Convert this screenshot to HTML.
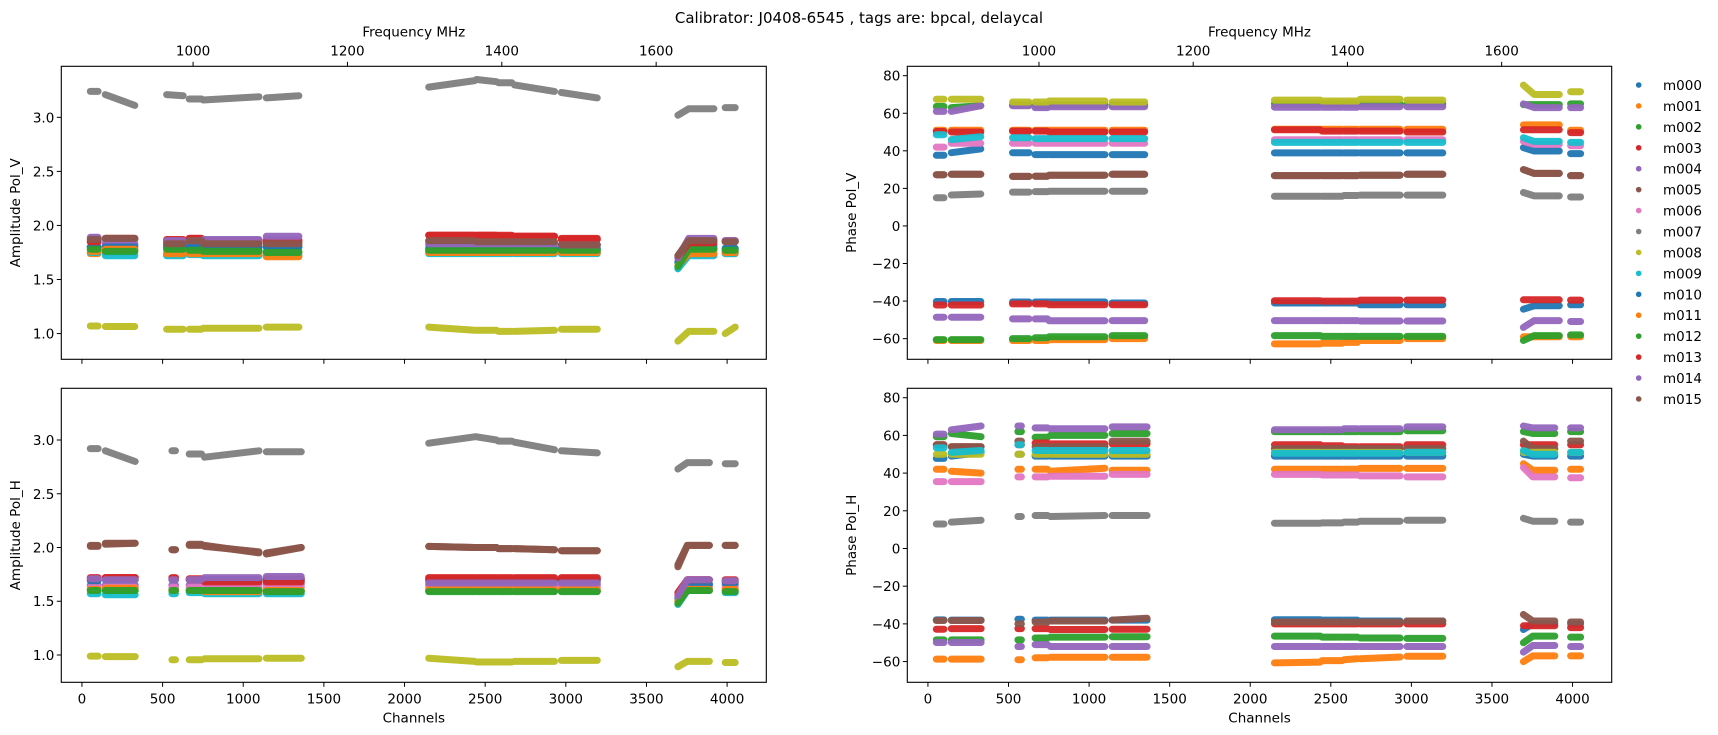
<!DOCTYPE html>
<html><head><meta charset="utf-8">
<style>
html,body{margin:0;padding:0;background:#fff;}
svg{display:block;font-family:"DejaVu Sans","Liberation Sans",sans-serif;}
</style></head>
<body>
<svg id="fig" width="1718" height="735" viewBox="0 0 1718 735" xmlns="http://www.w3.org/2000/svg">
<text x="859" y="23" text-anchor="middle" font-size="15" fill="#000">Calibrator: J0408-6545 , tags are: bpcal, delaycal</text>
</svg>
<script>
// ---- data ----
const antennas = ["m000","m001","m002","m003","m004","m005","m006","m007","m008","m009","m010","m011","m012","m013","m014","m015"];
const colors = ["#1f77b4","#ff7f0e","#2ca02c","#d62728","#9467bd","#8c564b","#e377c2","#7f7f7f","#bcbd22","#17becf","#1f77b4","#ff7f0e","#2ca02c","#d62728","#9467bd","#8c564b"];
const segV = [[52,100],[145,328],[525,628],[665,742],[752,1098],[1143,1345],[2150,2435],[2446,2570],[2582,2665],[2682,2930],[2972,3195],[3695,3918],[3988,4050]];
const segH = [[52,100],[145,330],[558,580],[665,742],[760,1098],[1143,1360],[2150,2435],[2446,2570],[2582,2665],[2682,2930],[2972,3195],[3695,3890],[3988,4050]];
const rampFrac = [1,1,1,1,1,1,1,1,1,1,1,0.3,1];
const channelTicks = [0,500,1000,1500,2000,2500,3000,3500,4000];
const freqTicks = [1000,1200,1400,1600];
const ampTicks = [1.0,1.5,2.0,2.5,3.0];
const phaseTicks = [-60,-40,-20,0,20,40,60,80];

const ampV = [
 [1.80,1.82,1.80,1.80,1.80,1.81,1.78,1.78,1.78,1.78,1.78,[1.66,1.78],1.78],
 [1.74,1.78,1.73,1.75,1.75,1.72,1.75,1.75,1.75,1.75,1.75,[1.62,1.73],1.74],
 [1.78,1.77,1.78,1.77,1.77,1.76,1.76,1.76,1.76,1.76,1.76,[1.60,1.78],1.76],
 [1.85,1.87,1.86,1.88,1.86,1.86,1.91,1.91,1.91,1.90,1.87,[1.70,1.82],1.85],
 [1.80,1.83,1.82,1.83,1.85,1.87,1.82,1.82,1.82,1.82,1.82,[1.66,1.86],1.85],
 [1.88,1.88,1.84,1.86,1.84,1.83,1.85,1.84,1.84,1.84,1.82,[1.72,1.86],1.85],
 [1.76,1.75,1.75,1.75,1.75,1.75,1.75,1.75,1.75,1.75,1.75,[1.62,1.75],1.75],
 [[3.24,3.24],[3.21,3.11],[3.21,3.20],3.17,[3.16,3.19],[3.18,3.20],[3.28,3.34],[3.35,3.33],3.32,[3.30,3.24],[3.23,3.18],[3.02,3.08],3.09],
 [1.07,1.065,1.04,1.04,1.05,1.06,[1.06,1.03],1.03,1.02,[1.02,1.03],1.04,[0.93,1.02],[1.0,1.06]],
 [1.75,1.72,1.72,1.73,1.72,1.72,1.74,1.74,1.74,1.74,1.74,[1.60,1.72],1.74],
 [1.80,1.80,1.81,1.80,1.80,1.80,1.79,1.79,1.79,1.79,1.79,[1.66,1.80],1.79],
 [1.76,1.78,1.74,1.74,1.74,1.71,1.75,1.75,1.75,1.75,1.75,[1.63,1.74],1.75],
 [1.78,1.76,1.78,1.77,1.76,1.75,1.77,1.77,1.77,1.77,1.77,[1.62,1.78],1.77],
 [1.85,1.88,1.87,1.88,1.86,1.85,1.91,1.91,1.90,1.90,1.88,[1.70,1.84],1.86],
 [1.89,1.87,1.86,1.86,1.87,1.90,1.83,1.83,1.83,1.83,1.82,[1.70,1.88],1.86],
 [1.87,1.88,1.83,1.86,1.83,1.83,1.86,1.85,1.85,1.85,1.82,[1.72,1.86],1.85]
];
const ampH = [
 [1.70,1.70,1.70,1.70,1.70,1.70,1.70,1.70,1.70,1.70,1.70,[1.52,1.65],1.68],
 [1.60,1.63,1.60,1.60,1.60,1.60,1.60,1.60,1.60,1.60,1.60,[1.50,1.60],1.60],
 [1.61,1.60,1.61,1.61,1.61,1.60,1.60,1.60,1.60,1.60,1.60,[1.50,1.62],1.61],
 [1.72,1.72,1.72,1.71,1.70,1.71,1.72,1.72,1.72,1.72,1.72,[1.58,1.70],1.70],
 [1.65,1.65,1.65,1.65,1.66,1.66,1.65,1.65,1.65,1.65,1.65,[1.52,1.66],1.65],
 [2.02,[2.03,2.04],1.98,2.02,[2.02,1.95],[1.95,2.0],[2.01,2.0],2.0,1.99,[1.99,1.98],1.97,[1.82,2.02],2.02],
 [1.63,1.63,1.63,1.63,1.63,1.63,1.63,1.63,1.63,1.63,1.63,[1.50,1.63],1.63],
 [2.92,[2.90,2.80],2.90,2.87,[2.84,2.90],2.89,[2.97,3.03],[3.03,3.0],2.99,[2.98,2.91],[2.90,2.88],[2.73,2.79],2.78],
 [0.99,0.985,0.955,0.955,0.965,0.97,[0.97,0.94],0.935,0.935,0.94,0.95,[0.89,0.94],0.93],
 [1.57,1.56,1.57,1.58,1.57,1.57,1.60,1.60,1.60,1.60,1.60,[1.47,1.60],1.58],
 [1.69,1.70,1.70,1.70,1.70,1.69,1.69,1.69,1.69,1.69,1.69,[1.53,1.66],1.67],
 [1.61,1.62,1.60,1.60,1.59,1.60,1.61,1.61,1.61,1.61,1.61,[1.50,1.61],1.61],
 [1.60,1.60,1.60,1.60,1.60,1.59,1.59,1.59,1.59,1.59,1.59,[1.48,1.60],1.59],
 [1.71,1.72,1.71,1.70,1.68,1.68,1.71,1.71,1.71,1.71,1.71,[1.56,1.70],1.69],
 [1.71,1.70,1.70,1.70,1.72,1.73,1.67,1.67,1.67,1.67,1.67,[1.55,1.70],1.69],
 [2.01,[2.04,2.04],1.98,2.03,[2.01,1.96],[1.94,2.0],[2.01,2.0],2.0,1.99,[1.99,1.98],1.97,[1.84,2.02],2.02]
];
const phaseV = [
 [37.6,[39,41],39,38,38,38,38.9,38.9,38.9,38.9,38.9,[41.7,39.9],38.5],
 [51,51,51,51,51,51,51.5,51.5,51.5,51.5,51.5,53.8,51],
 [63.6,[63,64],64.5,64,64.5,64.5,65,65,65,65,65,64.6,65],
 [50.3,50,50.5,50.5,50,50,51.2,50.5,50.5,50.5,50,51.2,49.7],
 [61,[61,64],64,63,63.5,63.5,63.2,63.2,63.2,63.5,63.5,[65,63],63],
 [27.3,27.5,26.4,26.5,27,27.5,26.8,26.8,26.8,27,27.5,[30,28],26.8],
 [42,44,44,44,44,44,45.9,45.9,45.9,45.9,45.9,[45,43.4],42.7],
 [15,[16.5,17],18,18.3,18.5,18.5,15.8,15.8,16.2,16.4,16.4,[17.8,16],15.4],
 [67.5,67.5,66,66,66.5,66,67,66.5,66.5,67.5,67,[75,70],71.5],
 [48.6,[46,47.5],47,46.5,46.5,46.5,44.5,44.5,44.5,44.5,44.5,[47,45],44.5],
 [-40.2,-40.2,-40.5,-40.5,-40.5,-41,-41,-41,-41,-42,-42,[-44.3,-42.5],-42],
 [-61,-61,-61,-61,-60.5,-60,-62.8,-62.5,-62,-61,-60,-59,-59],
 [-60.5,-60.5,-60,-59.5,-59,-58.4,-58.4,-58.8,-58.8,-58.8,-58.8,[-61,-58.4],-58],
 [-42.1,-42.1,-41.5,-41.5,-42,-42,-39.8,-40,-40,-39.5,-39.5,-39.3,-39.5],
 [-48.6,-48.6,-49.5,-49.5,-50.5,-50.4,-50.4,-50.4,-50.4,-50.6,-50.6,[-54,-50.4],-50.9],
 [27.3,27.5,26.4,26.5,27,27.5,26.8,26.8,26.8,27,27.5,[30,28],26.8]
];
const phaseH = [
 [47.8,[49,51],50,49,49,49,49,49,49,49,49,[50,49],49],
 [42,[41,40],42,42,[41,42.6],41.5,42,42,42,42.5,42.5,[45,41.5],42],
 [59.3,[61,59.3],62,59,60,61,62,62,62,62,62.5,[62,61],62],
 [55,54,55,56,55.5,55.5,55,54.5,54,54,55,55,55],
 [60.7,[63,65],65,64,63.5,64.5,63,63,63.5,63.5,64.5,[65,64],64],
 [55,54,57,54,54,57,53,53,53,53,53,[57,53],57],
 [35.5,35.5,38,38,38.3,39.3,39.3,39,39,38.5,38,[43,38],37.5],
 [13,[14,15],17,17.5,[17,17.5],17.5,13.4,13.6,14,14.5,15,[16,14.5],14],
 [50,50,50,50,50,50,51,51,51,51,51,51,51],
 [53.4,[51,52],55,52,52,52,50.5,50.5,50.5,50.5,51,[52,50],51],
 [-37.9,-38,-37.5,-38,-38,-38,-37.8,-38,-38,-38.5,-38.5,[-43,-40],-40],
 [-58.7,-58.7,-59,-58,-57.7,-57.7,[-60.7,-60.3],-59.5,[-59,-58.5],[-58.5,-57.6],-57.2,[-60,-57],-57],
 [-48.5,-48.5,-48.5,-47.5,-47,-46.8,-46.5,-47,-47,-47.5,-47.7,[-50,-46.5],-47],
 [-42.8,-42.5,-42.5,-42.5,-43,-42.8,-40,-40,-40,-40,-40,-41,-42],
 [-49.9,-49.9,-52,-51,-52,-52,-52,-52,-52,-52,-52,[-55,-51.5],-52],
 [-38.2,-38.2,-40,-39,-38.5,[-38,-37],-39,-39,-39,-39,-38.5,[-35,-38.5],-39]
];

// ---- layout ----
const NS = "http://www.w3.org/2000/svg";
const svg = document.getElementById("fig");
const FS = 13.5;
function mk(tag, attrs, parent){
  const e = document.createElementNS(NS, tag);
  for (const k in attrs) e.setAttribute(k, attrs[k]);
  (parent||svg).appendChild(e);
  return e;
}
const CH_MIN = -128, CH_MAX = 4243;
const panels = [
  {name:"amplitude-pol-v", x0:61.3, x1:766.3, y0:66.3, y1:359.3, ymin:0.762, ymax:3.472, data:ampV, seg:segV, ticks:ampTicks, fmt:v=>v.toFixed(1), ylabel:"Amplitude Pol_V", top:true, labx:15},
  {name:"amplitude-pol-h", x0:61.3, x1:766.3, y0:388.3, y1:682.3, ymin:0.746, ymax:3.481, data:ampH, seg:segH, ticks:ampTicks, fmt:v=>v.toFixed(1), ylabel:"Amplitude Pol_H", top:false, labx:15},
  {name:"phase-pol-v", x0:907.3, x1:1611.7, y0:66.3, y1:359.3, ymin:-71, ymax:85, data:phaseV, seg:segV, ticks:phaseTicks, fmt:v=>(v<0?"\u2212"+(-v):""+v), ylabel:"Phase Pol_V", top:true, labx:851},
  {name:"phase-pol-h", x0:907.3, x1:1611.7, y0:388.3, y1:682.3, ymin:-71, ymax:85, data:phaseH, seg:segH, ticks:phaseTicks, fmt:v=>(v<0?"\u2212"+(-v):""+v), ylabel:"Phase Pol_H", top:false, labx:851}
];
function freqToCh(f){ return (f-856)/0.208984; }

panels.forEach(p=>{
  const g = mk("g", {});
  
  
  const sx = c => p.x0 + (c - CH_MIN)/(CH_MAX - CH_MIN)*(p.x1 - p.x0);
  const sy = v => p.y1 - (v - p.ymin)/(p.ymax - p.ymin)*(p.y1 - p.y0);
  const clipId = "clip-" + p.name;
  const cp = mk("clipPath", {id:clipId}, g);
  mk("rect", {x:p.x0, y:p.y0, width:p.x1-p.x0, height:p.y1-p.y0}, cp);
  const plot = mk("g", {"clip-path":"url(#"+clipId+")"}, g);
  
  
  p.data.forEach((series, ai)=>{
    const sg = mk("g", {stroke:colors[ai], "stroke-width":7, "stroke-linecap":"round", "stroke-linejoin":"round", fill:"none", opacity:0.95}, plot);
    
    
    series.forEach((val, si)=>{
      const s = p.seg[si];
      const a = Array.isArray(val) ? val[0] : val;
      const b = Array.isArray(val) ? val[1] : val;
      const mid = s[0] + (s[1]-s[0])*rampFrac[si];
      const d = "M"+sx(s[0]).toFixed(1)+","+sy(a).toFixed(1)+" L"+sx(mid).toFixed(1)+","+sy(b).toFixed(1)+" L"+sx(s[1]).toFixed(1)+","+sy(b).toFixed(1);
      const ln = mk("path", {d:d}, sg);
      
      
    });
  });
  const fr = mk("rect", {x:p.x0, y:p.y0, width:p.x1-p.x0, height:p.y1-p.y0, fill:"none", stroke:"#000", "stroke-width":1.1}, g);
  
  
  p.ticks.forEach(t=>{
    const y = sy(t);
    mk("line", {x1:p.x0-4.5, x2:p.x0, y1:y, y2:y, stroke:"#000", "stroke-width":1}, g);
    const tx = mk("text", {x:p.x0-7, y:y+5, "text-anchor":"end", "font-size":FS}, g);
    tx.textContent = p.fmt(t);
    
    
  });
  const yl = mk("text", {x:0, y:0, "text-anchor":"middle", "font-size":FS, transform:"translate("+(p.labx+5)+","+((p.y0+p.y1)/2)+") rotate(-90)"}, g);
  yl.textContent = p.ylabel;
  
  
  channelTicks.forEach(c=>{
    const x = sx(c);
    mk("line", {x1:x, x2:x, y1:p.y1, y2:p.y1+4.5, stroke:"#000", "stroke-width":1}, g);
    if (!p.top){
      const tx = mk("text", {x:x, y:p.y1+21, "text-anchor":"middle", "font-size":FS}, g);
      tx.textContent = c;
      
      
    }
  });
  if (!p.top){
    const xl = mk("text", {x:(p.x0+p.x1)/2, y:p.y1+40, "text-anchor":"middle", "font-size":FS}, g);
    xl.textContent = "Channels";
    
    
  } else {
    freqTicks.forEach(f=>{
      const x = sx(freqToCh(f));
      mk("line", {x1:x, x2:x, y1:p.y0-4.5, y2:p.y0, stroke:"#000", "stroke-width":1}, g);
      const tx = mk("text", {x:x, y:p.y0-11, "text-anchor":"middle", "font-size":FS}, g);
      tx.textContent = f;
      
      
    });
    const fl = mk("text", {x:(p.x0+p.x1)/2, y:p.y0-30, "text-anchor":"middle", "font-size":FS}, g);
    fl.textContent = "Frequency MHz";
    
    
  }
});

const lg = mk("g", {});


antennas.forEach((a,i)=>{
  const y = 85 + i*20.93;
  const e = mk("g", {}, lg);
  
  
  mk("circle", {cx:1638.7, cy:y, r:2.8, fill:colors[i]}, e);
  const t = mk("text", {x:1663, y:y+5, "font-size":FS}, e);
  t.textContent = a;
});
</script>
</body></html>
